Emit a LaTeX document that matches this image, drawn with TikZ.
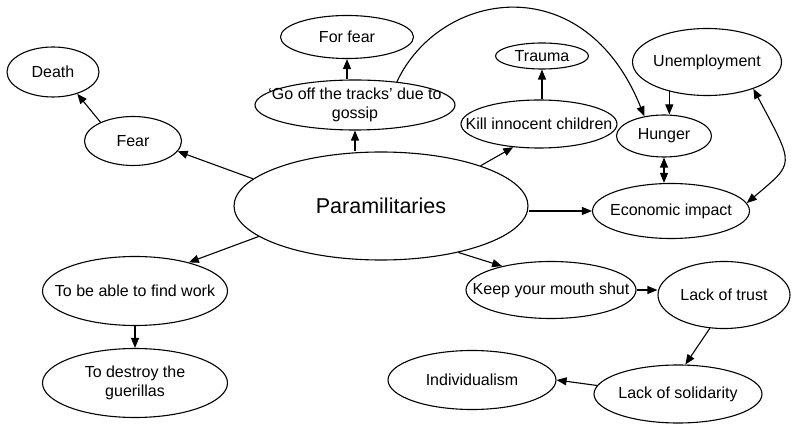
\documentclass[tikz,border=0pt]{standalone}
\usepackage{fontspec}
\setmainfont{Liberation Sans}
\usetikzlibrary{shapes.geometric,arrows.meta}

\begin{document}
\begin{tikzpicture}[x=1pt,y=-1pt,line width=1.1pt,
	bub/.style={draw,ellipse,inner sep=0pt},
	every label/.style={align=center,font=\fontsize{16}{19}\selectfont},
	arr/.style={-{Triangle[length=10pt,width=8pt]}},
	dbl/.style={{Triangle[length=10pt,width=8pt]}-{Triangle[length=10pt,width=8pt]}}]
	\useasboundingbox (0,0) rectangle (792,427);

	\node[bub,minimum width=294,minimum height=108,label={[font=\fontsize{21.5}{24}\selectfont]center:Paramilitaries}] (para) at (381,206) {};

	\node[bub,minimum width=97,minimum height=49,label=center:Fear] (fear) at (133,141) {};
	\node[bub,minimum width=92,minimum height=50,label=center:Death] (death) at (53,72) {};
	\node[bub,minimum width=200,minimum height=50,label={center:‘Go off the tracks’ due to\\gossip}] (gossip) at (355,105) {};
	\node[bub,minimum width=133,minimum height=43,label=center:For fear] (forfear) at (347,37) {};
	\node[bub,minimum width=156,minimum height=48,label=center:Kill innocent children] (kill) at (539,124) {};
	\node[bub,minimum width=93,minimum height=26,label=center:Trauma] (trauma) at (542,56) {};
	\node[bub,minimum width=95,minimum height=42,label=center:Hunger] (hunger) at (664,136) {};
	\node[bub,minimum width=149,minimum height=67,label=center:Unemployment] (unemp) at (707,62) {};
	\node[bub,minimum width=157,minimum height=55,label=center:Economic impact] (econ) at (671,211) {};

	\node[bub,minimum width=185,minimum height=69,label=center:To be able to find work] (work) at (135,291) {};
	\node[bub,minimum width=185,minimum height=69,label={center:To destroy the\\guerillas}] (guer) at (135,383) {};
	\node[bub,minimum width=170,minimum height=57,label=center:Keep your mouth shut] (mouth) at (551,290) {};
	\node[bub,minimum width=132,minimum height=67,label=center:Lack of trust] (trust) at (724,295) {};
	\node[bub,minimum width=168,minimum height=58,label=center:Lack of solidarity] (solid) at (678,394) {};
	\node[bub,minimum width=168,minimum height=59,label=center:Individualism] (indiv) at (472,380) {};

	\draw[arr] (para.168.8) -- (fear.-13.2);
	\draw[arr] (fear.150.5) -- (death.-42.7);
	\draw[arr] (para.north -| gossip.south) -- (gossip.south);
	\draw[arr] (gossip.north -| forfear.south) -- (forfear.south);
	\draw[arr] (gossip.29) .. controls (440,-10) and (584,-34) .. (hunger.135);
	\draw[arr] (para.22.4) -- (kill.222.7);
	\draw[arr] (kill.north -| trauma.south) -- (trauma.south);
	\draw[arr] (unemp.218) -- (unemp.218 |- hunger.north);
	\draw[dbl] (hunger.south) -- (hunger.south |- econ.north);
	\draw[dbl] (unemp.-30) .. controls (795,167) and (795,162) .. (econ.6);
	\draw[arr] (econ.west -| para.east) -- (econ.west);

	\draw[arr] (para.194.1) -- (work.28.7);
	\draw[arr] (work.south) -- (guer.north);
	\draw[arr] (para.-31.2) -- (mouth.154.7);
	\draw[arr] (mouth.east) -- (mouth.east -| trust.west);
	\draw[arr] (trust.247) -- (solid.76.4);
	\draw[arr] (solid.174.3) -- (indiv.east);
\end{tikzpicture}
\end{document}
